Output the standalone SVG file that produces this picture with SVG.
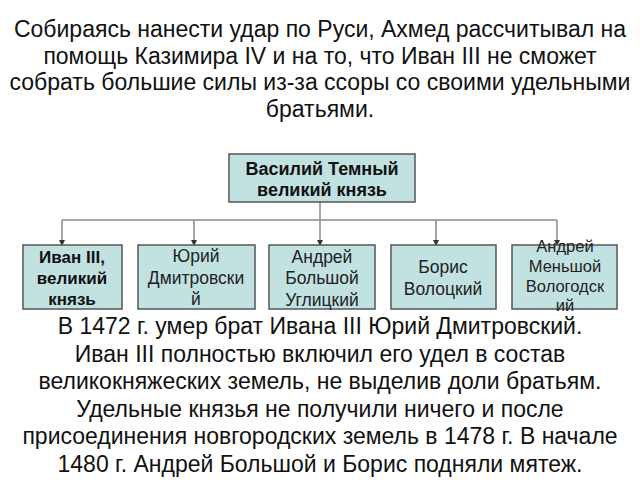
<svg xmlns="http://www.w3.org/2000/svg" width="640" height="480" viewBox="0 0 640 480">
<style>
.t{font-family:"Liberation Sans",Arial,sans-serif;font-size:23px;fill:#111;text-anchor:middle}
.b{font-family:"Liberation Sans",Arial,sans-serif;font-size:23px;fill:#111;text-anchor:middle}
.box{fill:#c2e1e1;stroke:#555;stroke-width:1.5}
.n{font-family:"Liberation Sans",Arial,sans-serif;font-size:17.5px;fill:#222;text-anchor:middle}
.nb{font-family:"Liberation Sans",Arial,sans-serif;font-size:17px;font-weight:bold;fill:#111;text-anchor:middle}
.c{fill:none;stroke:#8a8a8a;stroke-width:1.5}
</style>
<defs>
<marker id="ah" viewBox="0 0 6 6" refX="5" refY="3" markerWidth="4" markerHeight="4" orient="auto">
<path d="M0,0 L6,3 L0,6 z" fill="#333"/>
</marker>
</defs>
<rect width="640" height="480" fill="#fff"/>
<g id="title">
<text class="t" x="320" y="37">Собираясь нанести удар по Руси, Ахмед рассчитывал на</text>
<text class="t" x="320" y="63.5">помощь Казимира IV и на то, что Иван III  не сможет</text>
<text class="t" x="320" y="90">собрать большие силы из-за ссоры со своими удельными</text>
<text class="t" x="320" y="116.5">братьями.</text>
</g>
<g id="connectors">
<path class="c" d="M320,202 V220"/>
<path class="c" d="M62,220 H557"/>
<path class="c" d="M62,220 V245" marker-end="url(#ah)"/>
<path class="c" d="M194,220 V245" marker-end="url(#ah)"/>
<path class="c" d="M320,220 V245" marker-end="url(#ah)"/>
<path class="c" d="M436,220 V245" marker-end="url(#ah)"/>
<path class="c" d="M557,220 V245" marker-end="url(#ah)"/>
</g>
<g id="vasily">
<rect class="box" x="229" y="154" width="186" height="48"/>
<text class="nb" x="322" y="175" style="font-size:18px">Василий Темный</text>
<text class="nb" x="322" y="196" style="font-size:18px">великий князь</text>
</g>
<g id="ivan">
<rect class="box" x="23" y="245" width="99" height="64"/>
<text class="nb" x="72" y="263">Иван III,</text>
<text class="nb" x="72" y="284">великий</text>
<text class="nb" x="72" y="305">князь</text>
</g>
<g id="yuri">
<rect class="box" x="138" y="245" width="117" height="64"/>
<text class="n" x="196" y="262">Юрий</text>
<text class="n" x="196" y="284">Дмитровски</text>
<text class="n" x="196" y="305">й</text>
</g>
<g id="andrei-b">
<rect class="box" x="269" y="245" width="106" height="64"/>
<text class="n" x="322" y="263">Андрей</text>
<text class="n" x="322" y="284">Большой</text>
<text class="n" x="322" y="306">Углицкий</text>
</g>
<g id="boris">
<rect class="box" x="391" y="245" width="105" height="64"/>
<text class="n" x="443" y="273">Борис</text>
<text class="n" x="443" y="295">Волоцкий</text>
</g>
<g id="andrei-m">
<rect class="box" x="512" y="245" width="105" height="64"/>
<text class="n" x="565" y="252" style="font-size:16.5px">Андрей</text>
<text class="n" x="565" y="272" style="font-size:16.5px">Меньшой</text>
<text class="n" x="565" y="292" style="font-size:16.5px">Вологодск</text>
<text class="n" x="565" y="311" style="font-size:16.5px">ий</text>
</g>
<g id="body">
<text class="b" x="320" y="334">В 1472 г. умер брат Ивана III Юрий Дмитровский.</text>
<text class="b" x="320" y="361.5">Иван III полностью включил его удел в состав</text>
<text class="b" x="320" y="389">великокняжеских земель, не выделив доли братьям.</text>
<text class="b" x="320" y="416.5">Удельные князья не получили ничего и после</text>
<text class="b" x="320" y="444">присоединения новгородских земель в 1478 г. В начале</text>
<text class="b" x="320" y="471.5">1480 г. Андрей Большой и Борис подняли мятеж.</text>
</g>
</svg>
